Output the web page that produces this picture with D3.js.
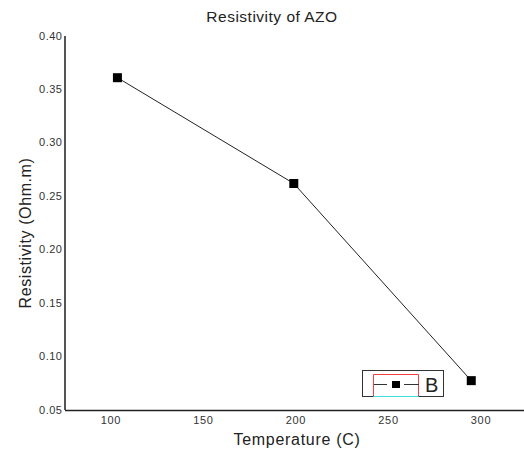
<!DOCTYPE html>
<html><head><meta charset="utf-8">
<script src="https://cdn.jsdelivr.net/npm/d3@7"></script>
<style>body{margin:0;background:#fff;}svg{display:block;}</style>
</head><body>
<script>
const temps = [103.8, 199.1, 295.0];
const resistivity = [0.3605, 0.2615, 0.0770];
const xTicks = [100, 150, 200, 250, 300];
const yTicks = [0.05, 0.10, 0.15, 0.20, 0.25, 0.30, 0.35, 0.40];
const seriesName = "B";
const title = "Resistivity of AZO";
const xTitle = "Temperature (C)";
const yTitle = "Resistivity (Ohm.m)";

const W = 524, H = 452;
const svg = d3.select("body").append("svg").attr("width", W).attr("height", H);
const x = d3.scaleLinear().domain([75.2, 323.5]).range([64.5, 524]);
const y = d3.scaleLinear().domain([0.05, 0.40]).range([409.5, 35.5]);
const font = "Arial, 'Liberation Sans', sans-serif";

// title
svg.append("text").attr("x", 272).attr("y", 22).attr("text-anchor", "middle")
  .attr("font-family", font).attr("font-size", 15.5).attr("letter-spacing", 0.5)
  .attr("fill", "#222").text(title);

// y axis
const yAxis = d3.axisLeft(y).tickValues(yTicks).tickSize(0).tickPadding(2)
  .tickFormat(d3.format(".2f"));
const gy = svg.append("g").attr("transform", "translate(64.5,0)").call(yAxis);
gy.select(".domain").attr("stroke", "#555").attr("stroke-width", 2);
gy.selectAll("text").attr("font-family", font).attr("font-size", 11)
  .attr("letter-spacing", 0.5).attr("fill", "#333");

// x axis
const xAxis = d3.axisBottom(x).tickValues(xTicks).tickSize(0).tickPadding(6);
const gx = svg.append("g").attr("transform", "translate(0,410)").call(xAxis);
gx.select(".domain").attr("stroke", "#222").attr("stroke-width", 1.6);
gx.selectAll("text").attr("font-family", font).attr("font-size", 11)
  .attr("letter-spacing", 0.7).attr("fill", "#333");

// axis titles
svg.append("text").attr("x", 297).attr("y", 445).attr("text-anchor", "middle")
  .attr("font-family", font).attr("font-size", 16).attr("letter-spacing", 0.7)
  .attr("fill", "#222").text(xTitle);
svg.append("text").attr("transform", "translate(31,233) rotate(-90)").attr("text-anchor", "middle")
  .attr("font-family", font).attr("font-size", 16).attr("letter-spacing", 0.6)
  .attr("fill", "#222").text(yTitle);

// line
const data = temps.map((t, i) => ({t, r: resistivity[i]}));
svg.append("path").datum(data)
  .attr("d", d3.line().x(d => x(d.t)).y(d => y(d.r)))
  .attr("fill", "none").attr("stroke", "#222").attr("stroke-width", 1);
svg.selectAll("rect.pt").data(data).enter().append("rect").attr("class", "pt")
  .attr("x", d => x(d.t) - 4.5).attr("y", d => y(d.r) - 4.5)
  .attr("width", 9).attr("height", 9).attr("fill", "#000");

// legend
const lg = svg.append("g");
lg.append("rect").attr("x", 362.5).attr("y", 370.5).attr("width", 81).attr("height", 26)
  .attr("fill", "#fff").attr("stroke", "#333").attr("stroke-width", 1);
lg.append("path").attr("d", "M373.5,396.5 V374.5 H418.5 V396.5").attr("fill", "none")
  .attr("stroke", "#f04040").attr("stroke-width", 1);
lg.append("line").attr("x1", 373.5).attr("x2", 418.5).attr("y1", 396.5).attr("y2", 396.5)
  .attr("stroke", "#40e0e0").attr("stroke-width", 1);
lg.append("line").attr("x1", 374).attr("x2", 387).attr("y1", 384.5).attr("y2", 384.5)
  .attr("stroke", "#333").attr("stroke-width", 1);
lg.append("line").attr("x1", 404).attr("x2", 419).attr("y1", 384.5).attr("y2", 384.5)
  .attr("stroke", "#333").attr("stroke-width", 1);
lg.append("rect").attr("x", 392).attr("y", 381).attr("width", 8).attr("height", 7).attr("fill", "#000");
lg.append("text").attr("x", 425).attr("y", 392).attr("font-family", font).attr("font-size", 20)
  .attr("fill", "#222").text(seriesName);
</script>
</body></html>
